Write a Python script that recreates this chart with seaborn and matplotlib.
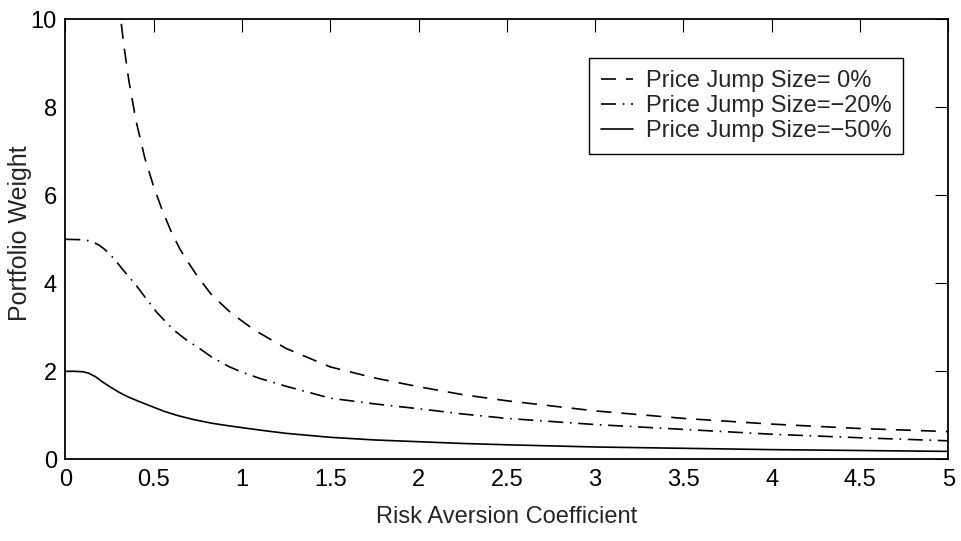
import seaborn as sns
import matplotlib.pyplot as plt

# values
x_zero = [0.30, 0.33, 0.36, 0.40, 0.45, 0.50, 0.55, 0.60, 0.65, 0.70, 0.75,
          0.83, 0.94, 1.07, 1.25, 1.50, 1.75, 2.00, 2.25, 2.50, 3.00, 3.50,
          4.00, 4.50, 5.00]
w_zero = [10.5, 9.45, 8.6, 7.7, 6.85, 6.2, 5.65, 5.17, 4.77, 4.45, 4.15,
          3.73, 3.32, 2.94, 2.52, 2.1, 1.85, 1.65, 1.47, 1.33, 1.1, 0.93,
          0.8, 0.7, 0.63]

x_m20 = [0.00, 0.10, 0.13, 0.16, 0.19, 0.22, 0.25, 0.28, 0.33, 0.40, 0.46,
         0.52, 0.61, 0.68, 0.76, 0.83, 0.93, 1.00, 1.10, 1.25, 1.50, 1.75,
         2.00, 2.25, 2.50, 3.00, 3.50, 4.00, 4.50, 5.00]
w_m20 = [5.0, 4.99, 4.97, 4.93, 4.87, 4.78, 4.67, 4.54, 4.29, 3.96, 3.64,
         3.33, 2.95, 2.73, 2.52, 2.32, 2.10, 1.98, 1.84, 1.66, 1.39, 1.26,
         1.15, 1.03, 0.93, 0.79, 0.68, 0.57, 0.49, 0.42]

x_m50 = [0.00, 0.05, 0.10, 0.13, 0.17, 0.21, 0.26, 0.31, 0.36, 0.42, 0.49,
         0.56, 0.64, 0.73, 0.83, 0.91, 1.00, 1.11, 1.25, 1.50, 1.75, 2.00,
         2.25, 2.50, 3.00, 3.50, 4.00, 4.50, 5.00]
w_m50 = [2.0, 2.0, 1.99, 1.96, 1.88, 1.76, 1.63, 1.51, 1.41, 1.31, 1.20,
         1.09, 0.99, 0.90, 0.82, 0.77, 0.72, 0.66, 0.59, 0.5, 0.44, 0.4,
         0.36, 0.33, 0.28, 0.25, 0.22, 0.2, 0.18]

labels = ['Price Jump Size= 0%', 'Price Jump Size=\u221220%', 'Price Jump Size=\u221250%']
x_ticks = [0, 0.5, 1, 1.5, 2, 2.5, 3, 3.5, 4, 4.5, 5]
x_ticklabels = ['0', '0.5', '1', '1.5', '2', '2.5', '3', '3.5', '4', '4.5', '5']
y_ticks = [0, 2, 4, 6, 8, 10]

sns.set_style('white')
plt.rcParams['font.family'] = ['Liberation Sans', 'DejaVu Sans']

fig = plt.figure(figsize=(9.62, 5.41), dpi=100)
ax = fig.add_axes([0.0679, 0.151, 0.9179, 0.8133])

sns.lineplot(x=x_zero, y=w_zero, ax=ax, color='black', lw=1.2,
             linestyle=(0, (9, 6)), label=labels[0])
sns.lineplot(x=x_m20, y=w_m20, ax=ax, color='black', lw=1.2,
             linestyle=(0, (9, 4, 1, 4)), label=labels[1])
sns.lineplot(x=x_m50, y=w_m50, ax=ax, color='black', lw=1.2,
             linestyle='-', label=labels[2])

ax.set_xlim(0, 5)
ax.set_ylim(0, 10)
ax.set_xticks(x_ticks)
ax.set_xticklabels(x_ticklabels)
ax.set_yticks(y_ticks)
ax.tick_params(direction='in', length=9.5, width=0.8, top=True, right=True,
               labelsize=17, colors='black')
ax.tick_params(axis='x', pad=7)
ax.tick_params(axis='y', pad=6)
for s in ax.spines.values():
    s.set_color('black')
    s.set_linewidth(1.3)

ax.set_xlabel('Risk Aversion Coefficient', fontsize=17, va='top')
ax.xaxis.set_label_coords(0.5, -0.105)
ax.set_ylabel('Portfolio Weight', fontsize=18)
ax.yaxis.set_label_coords(-0.038, 0.515)

leg = ax.legend(loc='upper right', bbox_to_anchor=(0.9487, 0.9114), fontsize=17,
                frameon=True, fancybox=False, edgecolor='black', framealpha=1,
                handlelength=1.35, handletextpad=0.55, borderpad=0.5,
                labelspacing=0.12, borderaxespad=0)
leg.get_frame().set_linewidth(1.0)

fig.savefig('out.png', dpi=100)
